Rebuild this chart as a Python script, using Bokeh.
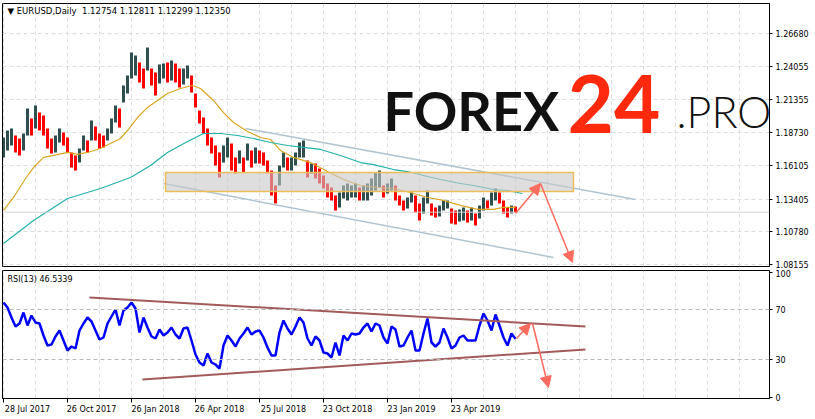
from bokeh.plotting import figure
from bokeh.layouts import column
from bokeh.models import (Range1d, FixedTicker, NumeralTickFormatter, Label, Arrow,
                          NormalHead, ColumnDataSource, Span, BoxAnnotation)
from bokeh.core.properties import value
from bokeh.embed import file_html
from bokeh.resources import INLINE

STEP = 4  # trading days represented by each drawn bar

highs = [1.1834, 1.1890, 1.1906, 1.1850, 1.1826, 1.1866, 1.2067, 1.1986, 1.2091, 1.2034,
         1.2010, 1.1906, 1.1826, 1.1850, 1.1906, 1.1874, 1.1834, 1.1714, 1.1690, 1.1746,
         1.1850, 1.1810, 1.1970, 1.1922, 1.1866, 1.1850, 1.1906, 1.1986, 1.2091, 1.2067,
         1.2251, 1.2331, 1.2516, 1.2492, 1.2435, 1.2387, 1.2556, 1.2387, 1.2355, 1.2419,
         1.2427, 1.2435, 1.2452, 1.2427, 1.2387, 1.2387, 1.2411, 1.2331, 1.2187, 1.2051,
         1.1994, 1.1906, 1.1834, 1.1770, 1.1714, 1.1770, 1.1834, 1.1786, 1.1674, 1.1730,
         1.1674, 1.1786, 1.1730, 1.1754, 1.1730, 1.1714, 1.1650, 1.1569, 1.1449, 1.1609,
         1.1714, 1.1674, 1.1674, 1.1714, 1.1794, 1.1810, 1.1650, 1.1625, 1.1625, 1.1585,
         1.1529, 1.1465, 1.1433, 1.1369, 1.1393, 1.1449, 1.1465, 1.1449, 1.1465, 1.1433,
         1.1449, 1.1465, 1.1505, 1.1553, 1.1569, 1.1449, 1.1465, 1.1505, 1.1449, 1.1369,
         1.1329, 1.1353, 1.1393, 1.1369, 1.1305, 1.1353, 1.1409, 1.1305, 1.1273, 1.1289,
         1.1329, 1.1329, 1.1265, 1.1249, 1.1257, 1.1273, 1.1249, 1.1273, 1.1224, 1.1289,
         1.1353, 1.1329, 1.1393, 1.1425, 1.1393, 1.1329, 1.1273, 1.1289, 1.1281]

lows = [1.1674, 1.1730, 1.1770, 1.1714, 1.1690, 1.1730, 1.1850, 1.1850, 1.1906, 1.1890,
        1.1850, 1.1746, 1.1706, 1.1714, 1.1794, 1.1770, 1.1714, 1.1593, 1.1569, 1.1633,
        1.1730, 1.1714, 1.1810, 1.1810, 1.1746, 1.1754, 1.1810, 1.1866, 1.1954, 1.1914,
        1.2115, 1.2187, 1.2307, 1.2331, 1.2275, 1.2227, 1.2371, 1.2251, 1.2171, 1.2267,
        1.2307, 1.2275, 1.2291, 1.2275, 1.2235, 1.2259, 1.2307, 1.2195, 1.2075, 1.1946,
        1.1866, 1.1770, 1.1706, 1.1609, 1.1513, 1.1633, 1.1674, 1.1569, 1.1545, 1.1625,
        1.1553, 1.1650, 1.1593, 1.1625, 1.1625, 1.1609, 1.1545, 1.1369, 1.1305, 1.1449,
        1.1593, 1.1569, 1.1569, 1.1609, 1.1674, 1.1674, 1.1513, 1.1545, 1.1505, 1.1465,
        1.1425, 1.1353, 1.1329, 1.1249, 1.1273, 1.1345, 1.1329, 1.1353, 1.1353, 1.1329,
        1.1329, 1.1329, 1.1369, 1.1409, 1.1433, 1.1353, 1.1385, 1.1409, 1.1329, 1.1289,
        1.1249, 1.1265, 1.1313, 1.1232, 1.1168, 1.1224, 1.1305, 1.1208, 1.1192, 1.1200,
        1.1249, 1.1265, 1.1144, 1.1136, 1.1160, 1.1168, 1.1152, 1.1168, 1.1128, 1.1184,
        1.1249, 1.1265, 1.1289, 1.1329, 1.1305, 1.1224, 1.1192, 1.1224, 1.1230]

rsi_vals = [75.6, 71.6, 63.6, 56.4, 58.8, 67.6, 57.2, 65.2, 59.6, 58.8,
            49.2, 41.2, 42.0, 48.4, 53.2, 45.2, 37.2, 40.4, 38.8, 53.2,
            58.8, 63.6, 60.4, 53.2, 46.0, 47.6, 58.8, 64.4, 70.0, 57.2,
            69.2, 71.6, 75.6, 70.8, 51.6, 63.6, 55.6, 48.4, 46.8, 54.0,
            49.2, 51.6, 55.6, 50.0, 46.8, 54.8, 55.6, 45.2, 34.0, 27.6,
            25.2, 34.8, 27.6, 26.0, 22.8, 41.2, 49.2, 45.2, 40.4, 46.8,
            50.8, 55.6, 50.0, 52.4, 53.2, 47.6, 39.6, 33.2, 33.2, 51.6,
            61.2, 54.8, 50.0, 56.4, 63.6, 59.6, 46.8, 41.2, 48.4, 45.2,
            35.6, 34.8, 31.6, 43.6, 33.2, 49.2, 45.2, 50.8, 50.0, 50.8,
            55.6, 58.8, 52.4, 58.8, 57.2, 47.6, 42.8, 56.4, 54.0, 40.4,
            41.2, 47.6, 53.2, 37.2, 37.2, 50.8, 62.8, 43.6, 40.4, 43.6,
            54.8, 47.6, 38.8, 41.2, 47.6, 49.2, 45.2, 45.2, 45.2, 57.2,
            66.8, 61.2, 53.2, 66.0, 57.2, 47.6, 41.2, 50.8, 46.5]

ma_fast_idx = [0, 10, 22, 30, 40, 50, 64, 74, 84, 97, 107, 117, 124, 134, 144, 154, 164,
               177, 189, 197, 210, 220, 230, 244, 257, 267, 277, 290, 307, 324, 340, 357,
               374, 390, 407, 424, 440, 457, 474, 490, 500, 512]
ma_fast_val = [1.1249, 1.1353, 1.1505, 1.1593, 1.1674, 1.1690, 1.1714, 1.1698, 1.1714,
               1.1746, 1.1786, 1.1826, 1.1890, 1.1994, 1.2075, 1.2131, 1.2187, 1.2227,
               1.2251, 1.2227, 1.2131, 1.2034, 1.1954, 1.1882, 1.1834, 1.1818, 1.1730,
               1.1674, 1.1633, 1.1561, 1.1497, 1.1449, 1.1433, 1.1425, 1.1393, 1.1353,
               1.1329, 1.1289, 1.1257, 1.1257, 1.1273, 1.1273]

ma_slow_idx = [0, 30, 64, 97, 127, 147, 164, 184, 200, 217, 234, 250, 267, 284, 300, 317,
               337, 357, 370, 390, 404, 424, 437, 457, 470, 490, 504, 519]
ma_slow_val = [1.0984, 1.1168, 1.1345, 1.1425, 1.1513, 1.1609, 1.1714, 1.1802, 1.1866,
               1.1866, 1.1850, 1.1826, 1.1794, 1.1770, 1.1754, 1.1738, 1.1690, 1.1633,
               1.1617, 1.1577, 1.1561, 1.1521, 1.1497, 1.1465, 1.1449, 1.1417, 1.1409,
               1.1385]

price_ticks = [1.08155, 1.10780, 1.13405, 1.16105, 1.18730, 1.21355, 1.24055, 1.26680]
date_ticks = [0, 64, 128, 192, 256, 320, 384, 448]
date_labels = ["28 Jul 2017", "26 Oct 2017", "26 Jan 2018", "26 Apr 2018",
               "25 Jul 2018", "23 Oct 2018", "23 Jan 2019", "23 Apr 2019"]
grid_days = list(range(0, 767, 32))
rsi_ticks = [0, 30, 70, 100]
rsi_levels = [70, 30]

symbol_text = "\u25bc EURUSD,Daily\u00a0\u00a01.12754 1.12811 1.12299 1.12350"
rsi_text = "RSI(13) 46.5339"
last_price = 1.12350

zone = dict(left=162, right=570, bottom=1.1401, top=1.1553)
chan_up_x, chan_up_y = [242, 632], [1.1906, 1.1337]
chan_dn_x, chan_dn_y = [160, 550], [1.1465, 1.0872]
rsi_up_x, rsi_up_y = [86, 582], [79.6, 56.4]
rsi_dn_x, rsi_dn_y = [139, 582], [14.0, 38.0]
price_arrows = [(512, 1.1224, 537, 1.1465), (537, 1.1465, 569, 1.0831)]
rsi_arrows = [(513, 46.8, 527, 58.8), (529, 58.8, 545, 7.6)]

UP_C = "#2F4F4F"
DN_C = "#FF0000"
ARROW_C = "#FF6B5E"
FONT = "DejaVu Sans"

# ---------- candles ----------
xs = [i * STEP for i in range(len(highs))]
mids = [(h + l) / 2 for h, l in zip(highs, lows)]
cols = [UP_C] + [DN_C if mids[i] < mids[i - 1] else UP_C for i in range(1, len(mids))]
src = ColumnDataSource(dict(x=xs, hi=highs, lo=lows, c=cols))

xr = Range1d(-1, 766)
p = figure(width=811, height=269, x_range=xr, y_range=Range1d(1.079938, 1.290864),
           output_backend="svg", toolbar_location=None, x_axis_location=None,
           y_axis_location="right", min_border_left=2, min_border_right=42,
           min_border_top=3, min_border_bottom=3)
p.outline_line_color = "black"
p.outline_line_width = 1
p.background_fill_color = "white"
p.border_fill_color = "white"

ya = p.yaxis[0]
ya.ticker = FixedTicker(ticks=price_ticks)
ya.formatter = NumeralTickFormatter(format="0.00000")
ya.major_tick_in = 0
ya.major_tick_out = 3
ya.minor_tick_out = 0
ya.minor_tick_in = 0
ya.major_label_standoff = 3
ya.axis_line_color = "black"
ya.major_label_text_font = FONT
ya.major_label_text_font_size = "8px"
ya.major_label_text_color = "black"

p.ygrid.ticker = FixedTicker(ticks=price_ticks)
p.xgrid.ticker = FixedTicker(ticks=grid_days)
for g in (p.xgrid, p.ygrid):
    g.grid_line_color = "#DCDCDC"
    g.grid_line_dash = "4 3"
    g.grid_line_width = 1

p.add_layout(Span(location=last_price, dimension="width", line_color="#D4D4D4", line_width=1))

# logo
p.text(x=[380], y=[1.2050], text=["FOREX"], text_font=value("Lato"), text_font_style="bold",
       text_font_size="54px", text_color="#111111", text_baseline="alphabetic",
       text_align="left")
p.text(x=[564], y=[1.2106], text=["24"], text_font=value("Lato"), text_font_style="bold",
       text_font_size="80px", text_color="#FF2A0E", text_baseline="alphabetic",
       text_align="left")
p.text(x=[673], y=[1.2042], text=[".PRO"], text_font=value("Lato Light"),
       text_font_size="43px", text_color="#111111", text_baseline="alphabetic",
       text_align="left")

p.vbar(x="x", width=3, top="hi", bottom="lo", fill_color="c", line_color=None, source=src)
p.line(ma_fast_idx, ma_fast_val, line_color="#DAA520", line_width=1.2)
p.line(ma_slow_idx, ma_slow_val, line_color="#20B2AA", line_width=1.2)

p.add_layout(BoxAnnotation(**zone, fill_color="#C8C8C8", fill_alpha=0.6,
                           line_color="#EBBE5A", line_width=1.5, line_alpha=1))
p.line(chan_up_x, chan_up_y, line_color="#AFC4D2", line_width=1.5)
p.line(chan_dn_x, chan_dn_y, line_color="#AFC4D2", line_width=1.5)

for (x0, y0, x1, y1) in price_arrows:
    p.add_layout(Arrow(end=NormalHead(size=11, fill_color=ARROW_C, line_color=ARROW_C),
                       x_start=x0, y_start=y0, x_end=x1, y_end=y1,
                       line_color=ARROW_C, line_width=1.5))

p.add_layout(Label(x=4, y=1.28886, text=symbol_text, text_font=FONT, text_font_size="8.5px",
                   text_color="black", text_baseline="top", text_align="left"))
p.add_layout(Label(x=770, y=last_price, text="1.12350", text_font=FONT, text_font_size="8px",
                   text_color="white", background_fill_color="black",
                   text_baseline="middle", text_align="left"))

# ---------- RSI ----------
r = figure(width=811, height=147, x_range=xr, y_range=Range1d(-1.2, 101.2),
           output_backend="svg", toolbar_location=None, y_axis_location="right",
           min_border_left=2, min_border_right=42, min_border_top=1, min_border_bottom=18)
r.outline_line_color = "black"
r.outline_line_width = 1
r.background_fill_color = "white"
r.border_fill_color = "white"

ry = r.yaxis[0]
ry.ticker = FixedTicker(ticks=rsi_ticks)
ry.formatter = NumeralTickFormatter(format="0")
ry.major_tick_in = 0
ry.major_tick_out = 3
ry.minor_tick_out = 0
ry.minor_tick_in = 0
ry.major_label_standoff = 3
ry.major_label_text_font = FONT
ry.major_label_text_font_size = "8px"
ry.major_label_text_color = "black"

rx = r.xaxis[0]
lab_pos = [t + 24 for t in date_ticks]
rx.ticker = FixedTicker(ticks=lab_pos, minor_ticks=date_ticks)
rx.major_label_overrides = {k: v for k, v in zip(lab_pos, date_labels)}
rx.major_tick_line_color = None
rx.major_tick_out = 4
rx.major_tick_in = 0
rx.minor_tick_in = 0
rx.minor_tick_out = 4
rx.minor_tick_line_color = "black"
rx.major_label_standoff = 2
rx.major_label_text_font = FONT
rx.major_label_text_font_size = "8px"
rx.major_label_text_color = "black"
rx.axis_line_color = "black"

r.xgrid.ticker = FixedTicker(ticks=grid_days)
r.xgrid.grid_line_color = "#DCDCDC"
r.xgrid.grid_line_dash = "4 3"
r.ygrid.visible = False
for lv in rsi_levels:
    r.add_layout(Span(location=lv, dimension="width", line_color="#B8B8B8",
                      line_dash="4 3", line_width=1))

r.line(xs, rsi_vals, line_color="#0000FF", line_width=2.5)
r.line(rsi_up_x, rsi_up_y, line_color="#A35A5A", line_width=2)
r.line(rsi_dn_x, rsi_dn_y, line_color="#A35A5A", line_width=2)
for (x0, y0, x1, y1) in rsi_arrows:
    r.add_layout(Arrow(end=NormalHead(size=11, fill_color=ARROW_C, line_color=ARROW_C),
                       x_start=x0, y_start=y0, x_end=x1, y_end=y1,
                       line_color=ARROW_C, line_width=1.5))
r.add_layout(Label(x=4, y=97.5, text=rsi_text, text_font=FONT, text_font_size="8px",
                   text_color="black", text_baseline="top", text_align="left"))

layout = column(p, r, margin=(0, 0, 0, 0), spacing=0)
open("out.html", "w").write(file_html(layout, INLINE))
